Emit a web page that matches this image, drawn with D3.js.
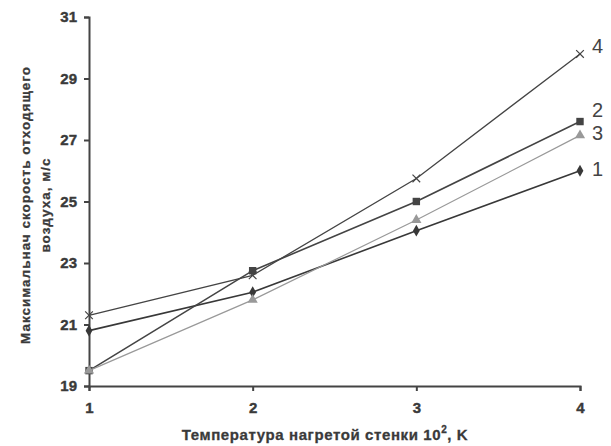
<!DOCTYPE html>
<html>
<head>
<meta charset="utf-8">
<script src="https://cdn.jsdelivr.net/npm/d3@7"></script>
<style>
    body { margin: 0; background: white; }
    svg { font-family: "Liberation Sans", Arial, Helvetica, sans-serif; }
    .axis path, .axis line { stroke: #444; stroke-width: 2; }
    .title { font-weight: bold; fill: #3a3a3a; }
</style>
</head>
<body>
<svg id="chart"></svg>
<script>
    // values
    let temps = [1, 2, 3, 4]
    let series1 = [20.8, 22.05, 24.05, 26.0]   // diamonds
    let series2 = [19.5, 22.75, 25.0, 27.6]    // squares
    let series3 = [19.5, 21.8, 24.4, 27.15]    // triangles
    let series4 = [21.3, 22.6, 25.75, 29.8]    // crosses
    let seriesNames = ["1", "2", "3", "4"]
    let yTicks = [19, 21, 23, 25, 27, 29, 31]

    let width = 611, height = 446
    let margin = {top: 17, right: 31, bottom: 60, left: 89}

    let svg = d3.select("#chart").attr("width", width).attr("height", height)

    let x = d3.scaleLinear().domain([1, 4]).range([margin.left, width - margin.right])
    let y = d3.scaleLinear().domain([19, 31]).range([height - margin.bottom, margin.top])

    // axes
    svg.append("g")
        .attr("class", "axis")
        .attr("transform", `translate(0,${y(19)})`)
        .call(d3.axisBottom(x).tickValues(temps).tickSize(5).tickSizeOuter(5).tickPadding(11).tickFormat(d3.format("d")))

    svg.append("g")
        .attr("class", "axis")
        .attr("transform", `translate(${x(1)},0)`)
        .call(d3.axisLeft(y).tickValues(yTicks).tickSize(5).tickSizeOuter(5).tickPadding(7).tickFormat(d3.format("d")))

    svg.selectAll(".axis text")
        .attr("font-size", 15)
        .attr("font-weight", "bold")
        .attr("fill", "#3a3a3a")
        .attr("stroke", "#3a3a3a")
        .attr("stroke-width", 0.4)

    let styles = [
        {data: series1, color: "#383838", width: 1.6, shape: d3.symbolDiamond, size: 40},
        {data: series2, color: "#444", width: 1.6, shape: d3.symbolSquare, size: 55},
        {data: series3, color: "#999", width: 1.2, shape: d3.symbolTriangle, size: 45},
        {data: series4, color: "#444", width: 1.3, shape: d3.symbolX, size: 40}
    ]

    let line = d3.line().x((d, i) => x(temps[i])).y(d => y(d))

    styles.forEach((s, k) => {
        svg.append("path")
            .datum(s.data)
            .attr("d", line)
            .attr("fill", "none")
            .attr("stroke", s.color)
            .attr("stroke-width", s.width)

        svg.selectAll(".m" + k)
            .data(s.data)
            .enter().append("path")
            .attr("class", "m" + k)
            .attr("transform", (d, i) => `translate(${x(temps[i])},${y(d)})`)
            .attr("d", d3.symbol().type(s.shape).size(s.size))
            .attr("fill", s.shape == d3.symbolX ? "none" : s.color)
            .attr("stroke", s.color)
            .attr("stroke-width", s.shape == d3.symbolX ? 1.2 : 0)
    })

    // curve numbers at the right end
    let labelOffsets = [-2, -12, -2, -8]
    styles.forEach((s, k) => {
        svg.append("text")
            .attr("x", x(4) + 12)
            .attr("y", y(s.data[3]) + labelOffsets[k] + 7)
            .attr("font-size", 20)
            .attr("fill", "#444")
            .text(seriesNames[k])
    })

    // axis titles
    let xt = svg.append("text")
        .attr("class", "title")
        .attr("x", 325)
        .attr("y", 440)
        .attr("text-anchor", "middle")
        .attr("font-size", 15)
        .attr("letter-spacing", 0.6)
        .attr("stroke", "#3a3a3a")
        .attr("stroke-width", 0.3)
    xt.append("tspan").text("Температура нагретой стенки 10")
    xt.append("tspan").attr("font-size", 10).attr("dy", -7).text("2")
    xt.append("tspan").attr("dy", 7).text(", K")

    let yt = svg.append("text")
        .attr("class", "title")
        .attr("transform", "translate(0,205) rotate(-90)")
        .attr("text-anchor", "middle")
        .attr("font-size", 13.5)
        .attr("letter-spacing", 1)
        .attr("stroke", "#3a3a3a")
        .attr("stroke-width", 0.3)
    yt.append("tspan").attr("x", 0).attr("y", 30).text("Максимальнач скорость отходящего")
    yt.append("tspan").attr("x", 0).attr("y", 50).text("воздуха, м/с")
</script>
</body>
</html>
